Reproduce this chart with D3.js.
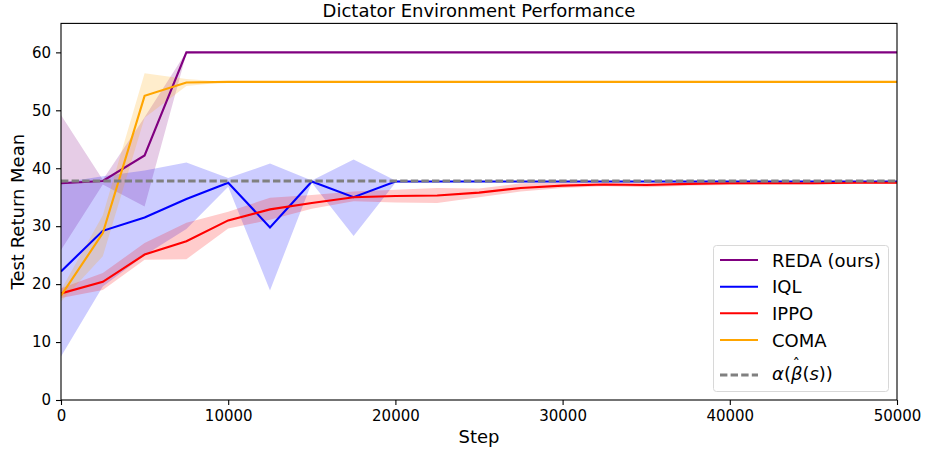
<!DOCTYPE html>
<html>
<head>
<meta charset="utf-8">
<script src="https://cdn.jsdelivr.net/npm/d3@7"></script>
<style>
  body { margin: 0; background: #fff; }
  svg { display: block; font-family: "DejaVu Sans", sans-serif; }
  .axis path, .axis line { stroke: #000; stroke-width: 1.1; }
  .axis text { font-size: 15px; fill: #000; }
</style>
</head>
<body>
<svg id="chart" width="925" height="454"></svg>
<script>
// training steps
var steps = [0, 2500, 5000, 7500, 10000, 12500, 15000, 17500, 20000, 22500, 25000,
             27500, 30000, 32500, 35000, 37500, 40000, 42500, 45000, 47500, 50000];

var redaMean = [37.4, 37.8, 42.2, 60, 60, 60, 60, 60, 60, 60, 60, 60, 60, 60, 60, 60, 60, 60, 60, 60, 60];
var redaLo   = [25.9, 37.2, 33.4, 59.8, 60, 60, 60, 60, 60, 60, 60, 60, 60, 60, 60, 60, 60, 60, 60, 60, 60];
var redaHi   = [49.2, 38.0, 48.8, 60.1, 60, 60, 60, 60, 60, 60, 60, 60, 60, 60, 60, 60, 60, 60, 60, 60, 60];

var iqlMean = [22.2, 29.2, 31.5, 34.7, 37.5, 29.8, 37.7, 35.0, 37.7, 37.7, 37.7, 37.7, 37.7, 37.7, 37.7, 37.7, 37.7, 37.7, 37.7, 37.7, 37.7];
var iqlLo   = [7.5, 19.6, 25.0, 29.5, 36.8, 18.9, 37.5, 28.3, 37.5, 37.7, 37.7, 37.7, 37.7, 37.7, 37.7, 37.7, 37.7, 37.7, 37.7, 37.7, 37.7];
var iqlHi   = [37.5, 38.6, 39.6, 41.0, 38.3, 40.8, 37.9, 41.5, 37.9, 37.7, 37.7, 37.7, 37.7, 37.7, 37.7, 37.7, 37.7, 37.7, 37.7, 37.7, 37.7];

var ippoMean = [18.4, 20.4, 25.1, 27.4, 31.0, 32.9, 34.0, 35.0, 35.2, 35.3, 35.8, 36.6, 37.0, 37.2, 37.1, 37.3, 37.4, 37.4, 37.4, 37.5, 37.5];
var ippoLo   = [17.6, 19.0, 24.2, 24.3, 29.6, 31.1, 33.0, 34.3, 34.1, 34.0, 35.0, 36.0, 36.6, 36.9, 36.7, 37.0, 37.1, 37.2, 37.2, 37.3, 37.3];
var ippoHi   = [19.3, 21.9, 27.1, 30.6, 32.5, 34.9, 35.4, 36.0, 36.3, 36.6, 36.5, 37.4, 37.5, 37.5, 37.5, 37.6, 37.6, 37.6, 37.6, 37.7, 37.7];

var comaMean = [18.0, 28.8, 52.5, 54.8, 54.9, 54.9, 54.9, 54.9, 54.9, 54.9, 54.9, 54.9, 54.9, 54.9, 54.9, 54.9, 54.9, 54.9, 54.9, 54.9, 54.9];
var comaLo   = [17.0, 24.8, 48.7, 54.2, 54.9, 54.9, 54.9, 54.9, 54.9, 54.9, 54.9, 54.9, 54.9, 54.9, 54.9, 54.9, 54.9, 54.9, 54.9, 54.9, 54.9];
var comaHi   = [19.0, 31.9, 56.4, 55.4, 54.9, 54.9, 54.9, 54.9, 54.9, 54.9, 54.9, 54.9, 54.9, 54.9, 54.9, 54.9, 54.9, 54.9, 54.9, 54.9, 54.9];

var baseline = 37.8;
var xTicks = [0, 10000, 20000, 30000, 40000, 50000];
var yTicks = [0, 10, 20, 30, 40, 50, 60];

var series = [
    {name: "REDA (ours)", color: "purple", mean: redaMean, lo: redaLo, hi: redaHi},
    {name: "IQL", color: "blue", mean: iqlMean, lo: iqlLo, hi: iqlHi},
    {name: "IPPO", color: "red", mean: ippoMean, lo: ippoLo, hi: ippoHi},
    {name: "COMA", color: "orange", mean: comaMean, lo: comaLo, hi: comaHi}
];

var margin = {top: 23.4, right: 28, bottom: 54, left: 61},
    width = 925 - margin.left - margin.right,
    height = 454 - margin.top - margin.bottom;

var svg = d3.select("#chart");
var g = svg.append("g").attr("transform", "translate(" + margin.left + "," + margin.top + ")");

var x = d3.scaleLinear().domain([0, 50000]).range([0, width]);
var y = d3.scaleLinear().domain([0, 65]).range([height, 0]);

g.append("clipPath").attr("id", "plotClip")
    .append("rect").attr("width", width).attr("height", height);

var plot = g.append("g").attr("clip-path", "url(#plotClip)");

// bands first (under all lines)
series.forEach(function (s) {
    var area = d3.area()
        .x(function (d, i) { return x(steps[i]); })
        .y0(function (d, i) { return y(s.lo[i]); })
        .y1(function (d, i) { return y(s.hi[i]); });
    plot.append("path")
        .datum(s.mean)
        .attr("d", area)
        .attr("fill", s.color)
        .attr("fill-opacity", 0.2)
        .attr("stroke", "none");
});

series.forEach(function (s) {
    var line = d3.line()
        .x(function (d, i) { return x(steps[i]); })
        .y(function (d) { return y(d); });
    plot.append("path")
        .datum(s.mean)
        .attr("d", line)
        .attr("fill", "none")
        .attr("stroke", s.color)
        .attr("stroke-width", 2.1);
});

plot.append("line")
    .attr("x1", 0).attr("x2", width)
    .attr("y1", y(baseline)).attr("y2", y(baseline))
    .attr("stroke", "grey")
    .attr("stroke-width", 2.8)
    .attr("stroke-dasharray", "7.4,3.2");

// axes
g.append("g").attr("class", "axis")
    .attr("transform", "translate(0," + height + ")")
    .call(d3.axisBottom(x).tickValues(xTicks).tickFormat(d3.format("d")).tickSize(5).tickPadding(5))
    .call(function (a) { a.select(".domain").remove(); });

g.append("g").attr("class", "axis")
    .call(d3.axisLeft(y).tickValues(yTicks).tickSize(5).tickPadding(5))
    .call(function (a) { a.select(".domain").remove(); });

g.selectAll(".axis text").attr("font-family", "DejaVu Sans");

g.append("rect")
    .attr("width", width).attr("height", height)
    .attr("fill", "none").attr("stroke", "#000").attr("stroke-width", 1.1);

// labels
svg.append("text")
    .attr("x", margin.left + width / 2).attr("y", 17)
    .attr("text-anchor", "middle")
    .attr("font-size", "18px")
    .text("Dictator Environment Performance");

svg.append("text")
    .attr("x", margin.left + width / 2).attr("y", 443)
    .attr("text-anchor", "middle")
    .attr("font-size", "18px")
    .text("Step");

svg.append("text")
    .attr("transform", "translate(24," + (margin.top + height / 2) + ") rotate(-90)")
    .attr("text-anchor", "middle")
    .attr("font-size", "18px")
    .text("Test Return Mean");

// legend
var legend = svg.append("g").attr("transform", "translate(713,245)");
legend.append("rect")
    .attr("x", 0.5).attr("y", 0.5)
    .attr("width", 175).attr("height", 146)
    .attr("rx", 3)
    .attr("fill", "#fff").attr("fill-opacity", 0.8)
    .attr("stroke", "#d8d8d8").attr("stroke-width", 1);

var rowY = [15, 41.7, 68.3, 95];
series.forEach(function (s, i) {
    legend.append("line")
        .attr("x1", 7).attr("x2", 45)
        .attr("y1", rowY[i]).attr("y2", rowY[i])
        .attr("stroke", s.color).attr("stroke-width", 2.1);
    legend.append("text")
        .attr("x", 59).attr("y", rowY[i] + 6.5)
        .attr("font-size", "18px")
        .text(s.name);
});

legend.append("line")
    .attr("x1", 7).attr("x2", 45)
    .attr("y1", 130).attr("y2", 130)
    .attr("stroke", "grey").attr("stroke-width", 2.8)
    .attr("stroke-dasharray", "7.4,3.2");

var mathText = legend.append("text")
    .attr("x", 59).attr("y", 135)
    .attr("font-size", "18px");
mathText.append("tspan").attr("font-style", "italic").text("\u03b1");
mathText.append("tspan").text("(");
mathText.append("tspan").attr("font-style", "italic").text("\u03b2");
mathText.append("tspan").text("(");
mathText.append("tspan").attr("font-style", "italic").text("s");
mathText.append("tspan").text("))");

// hat over beta
var ext = mathText.node().getExtentOfChar(2);
legend.append("text")
    .attr("x", ext.x + ext.width / 2 - 0.5).attr("y", 125)
    .attr("text-anchor", "middle")
    .attr("font-size", "15px")
    .text("\u02c6");
</script>
</body>
</html>
